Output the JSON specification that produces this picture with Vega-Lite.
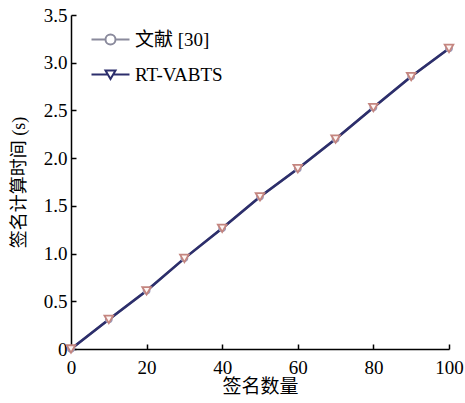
{
  "$schema": "https://vega.github.io/schema/vega-lite/v6.json",
  "autosize": "none",
  "width": 378,
  "height": 334,
  "padding": {"left": 71, "top": 15, "right": 16, "bottom": 54},
  "background": "white",
  "view": {"stroke": null},
  "config": {
    "font": "Liberation Serif, Noto Sans CJK SC",
    "axis": {"grid": false, "domainColor": "black", "domainWidth": 1.5, "tickColor": "black", "tickWidth": 1.5, "tickSize": -5, "labelFont": "Liberation Serif", "labelFontSize": 19, "labelColor": "black", "titleFont": "Liberation Serif, Noto Sans CJK SC", "titleFontSize": 18, "titleFontWeight": "normal", "titleColor": "black"}
  },
  "data": {
    "values": [
      {"series": "文献 [30]", "n": 0, "t": 0},
      {"series": "文献 [30]", "n": 10, "t": 0.31},
      {"series": "文献 [30]", "n": 20, "t": 0.61},
      {"series": "文献 [30]", "n": 30, "t": 0.95},
      {"series": "文献 [30]", "n": 40, "t": 1.265},
      {"series": "文献 [30]", "n": 50, "t": 1.595},
      {"series": "文献 [30]", "n": 60, "t": 1.89},
      {"series": "文献 [30]", "n": 70, "t": 2.2},
      {"series": "文献 [30]", "n": 80, "t": 2.53},
      {"series": "文献 [30]", "n": 90, "t": 2.855},
      {"series": "文献 [30]", "n": 100, "t": 3.15},
      {"series": "RT-VABTS", "n": 0, "t": 0},
      {"series": "RT-VABTS", "n": 10, "t": 0.31},
      {"series": "RT-VABTS", "n": 20, "t": 0.61},
      {"series": "RT-VABTS", "n": 30, "t": 0.95},
      {"series": "RT-VABTS", "n": 40, "t": 1.265},
      {"series": "RT-VABTS", "n": 50, "t": 1.595},
      {"series": "RT-VABTS", "n": 60, "t": 1.89},
      {"series": "RT-VABTS", "n": 70, "t": 2.2},
      {"series": "RT-VABTS", "n": 80, "t": 2.53},
      {"series": "RT-VABTS", "n": 90, "t": 2.855},
      {"series": "RT-VABTS", "n": 100, "t": 3.15}
    ]
  },
  "encoding": {
    "x": {"field": "n", "type": "quantitative", "scale": {"domain": [0, 100], "nice": false}, "axis": {"values": [0, 20, 40, 60, 80, 100], "title": "签名数量", "titlePadding": 0, "labelPadding": 14, "labelFlush": false, "titleFontSize": 19}},
    "y": {"field": "t", "type": "quantitative", "scale": {"domain": [0, 3.5], "nice": false}, "axis": {"values": [0, 0.5, 1, 1.5, 2, 2.5, 3, 3.5], "labelExpr": "datum.value == 0 ? '0' : format(datum.value, '.1f')", "title": "签名计算时间 (s)", "titlePadding": 15, "labelPadding": 9, "labelFlush": false}}
  },
  "layer": [
    {
      "transform": [{"filter": "datum.series == '文献 [30]'"}],
      "mark": {"type": "line", "strokeWidth": 2.5},
      "encoding": {
        "color": {"field": "series", "type": "nominal", "scale": {"domain": ["文献 [30]", "RT-VABTS"], "range": ["#8a8a9c", "#2c2e6c"]},
          "legend": {"title": null, "orient": "none", "legendX": 30, "legendY": 15, "padding": 0, "symbolSize": 100, "symbolStrokeWidth": 2, "labelOffset": 15, "rowPadding": 15, "labelFont": "Liberation Serif, Noto Sans CJK SC", "labelFontSize": 19, "labelColor": "black",
            "encode": {"symbols": {"update": {"shape": {"signal": "datum.value == '文献 [30]' ? 'M-3.8,0H-1M1,0H3.8M-1,0A1,1 0 1,0 1,0A1,1 0 1,0 -1,0' : 'M-3.8,0H-0.55M0.55,0H3.8M-1,-0.8L1,-0.8L0,0.9Z'"}, "fill": {"value": "white"}, "strokeWidth": {"value": 2}}}}}
        }
      }
    },
    {
      "transform": [{"filter": "datum.series == 'RT-VABTS'"}],
      "mark": {"type": "line", "strokeWidth": 2.5},
      "encoding": {
        "color": {"field": "series", "type": "nominal"}
      }
    },
    {
      "transform": [{"filter": "datum.series == '文献 [30]'"}],
      "mark": {"type": "point", "shape": "circle", "size": 40, "filled": false, "fill": "white", "fillOpacity": 1, "stroke": "#9a98b8", "strokeWidth": 1.5, "opacity": 1},
      "encoding": {}
    },
    {
      "transform": [{"filter": "datum.series == 'RT-VABTS'"}],
      "mark": {"type": "point", "shape": "triangle-down", "size": 75, "filled": false, "fill": "#fff6f4", "fillOpacity": 1, "stroke": "#c4857f", "strokeWidth": 1.8, "opacity": 1},
      "encoding": {}
    }
  ]
}
